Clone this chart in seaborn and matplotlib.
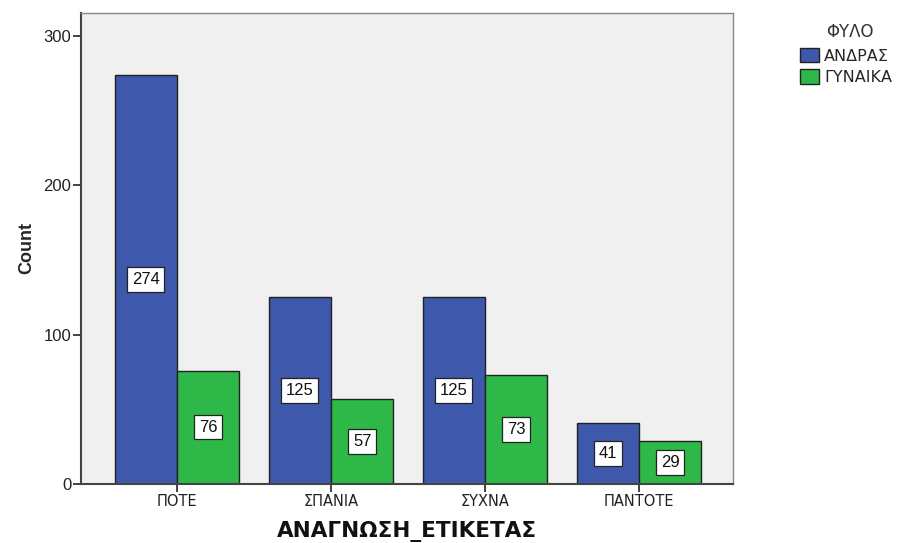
import matplotlib
matplotlib.use("Agg")
import matplotlib.pyplot as plt
import seaborn as sns
import pandas as pd
from matplotlib.patches import Patch

categories = ["ΠΟΤΕ", "ΣΠΑΝΙΑ", "ΣΥΧΝΑ", "ΠΑΝΤΟΤΕ"]
men = [274, 125, 125, 41]
women = [76, 57, 73, 29]
series_names = ["ΑΝΔΡΑΣ", "ΓΥΝΑΙΚΑ"]
yticks = [0, 100, 200, 300]

df = pd.DataFrame({
    "cat": categories * 2,
    "count": men + women,
    "sex": [series_names[0]] * 4 + [series_names[1]] * 4,
})

sns.set_style("white")
plt.rcParams["font.family"] = ["Liberation Sans", "DejaVu Sans"]
GREEK = ["DejaVu Sans"]

fig = plt.figure(figsize=(9.01, 5.43), dpi=100)
ax = fig.add_axes([81 / 901, 59 / 543, (733 - 81) / 901, (484 - 13) / 543])
ax.set_facecolor("#f0f0f0")

palette = {series_names[0]: "#3e58ac", series_names[1]: "#2eb848"}
sns.barplot(data=df, x="cat", y="count", hue="sex", order=categories,
            hue_order=series_names, palette=palette, width=0.81,
            edgecolor="#222222", linewidth=1.0, saturation=1, ax=ax, legend=False)

for cont in ax.containers:
    for bar in cont:
        h = bar.get_height()
        ax.text(bar.get_x() + bar.get_width() / 2, h / 2, f"{int(h)}",
                ha="center", va="center", fontsize=12, color="#111111",
                bbox=dict(boxstyle="square,pad=0.28", fc="white", ec="#222222", lw=0.9))

ax.set_xlim(-0.623, 3.61)
ax.set_ylim(0, 315.4)
ax.set_yticks(yticks)
ax.set_yticklabels([str(t) for t in yticks], fontsize=12, color="#222222")
ax.set_xticks(range(len(categories)))
ax.set_xticklabels(categories, fontsize=10.5, family=GREEK, color="#222222")
ax.tick_params(axis="both", direction="out", length=6, width=1.3, color="#333333",
               pad=1, bottom=True, left=True)
ax.set_ylabel("Count", fontsize=13, fontweight="bold", labelpad=6)
ax.set_xlabel("ΑΝΑΓΝΩΣΗ_ΕΤΙΚΕΤΑΣ", fontsize=15.5, fontweight="bold", labelpad=9,
              family=GREEK, color="#111111")
for sp in ["left", "bottom"]:
    ax.spines[sp].set_color("#444444")
    ax.spines[sp].set_linewidth(1.5)
for sp in ["top", "right"]:
    ax.spines[sp].set_color("#888888")
    ax.spines[sp].set_linewidth(1.0)

fig.text(850 / 901, 1 - 32 / 543, "ΦΥΛΟ", ha="center", va="center",
         fontsize=12, family=GREEK, color="#333333")
handles = [Patch(facecolor=palette[n], edgecolor="#222222", linewidth=1.0) for n in series_names]
leg = fig.legend(handles, series_names, loc="upper left",
                 bbox_to_anchor=(800 / 901, 1 - 48 / 543),
                 frameon=False, prop={"family": GREEK, "size": 11.5},
                 handlelength=1.2, handleheight=1.0, handletextpad=0.3,
                 labelspacing=0.35, borderaxespad=0, borderpad=0)

fig.savefig("out.png", dpi=100)
